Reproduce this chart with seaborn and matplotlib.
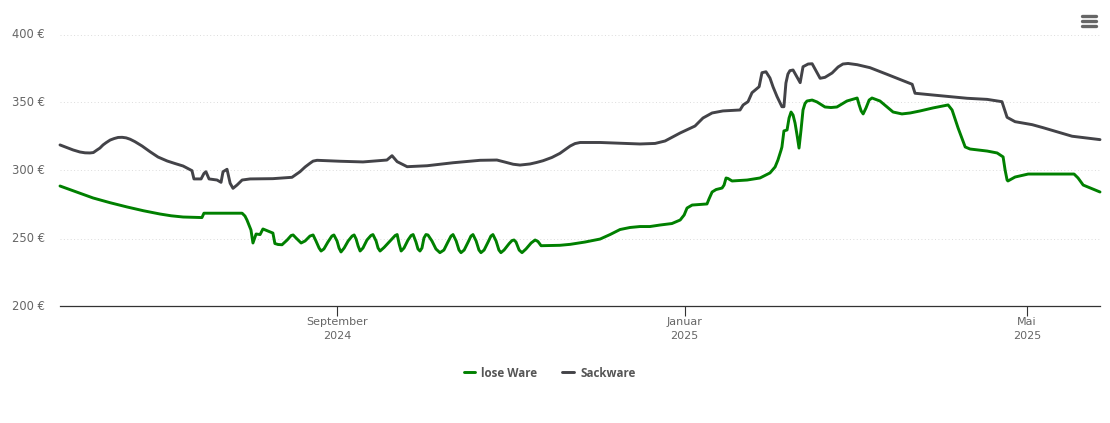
import pandas as pd
import matplotlib
matplotlib.use("Agg")
import matplotlib.pyplot as plt
from matplotlib.lines import Line2D
from matplotlib.transforms import ScaledTranslation
import seaborn as sns

ORIGIN = "2024-09-01"
# days since ORIGIN, price in euro
lose_days = [-97.2,-91.4,-85.6,-79.6,-73.7,-67.9,-62.1,-58.2,-54.0,-47.4,-46.7,-33.3,-32.3,-31.6,-30.2,-29.5,-28.4,-27.0,-26.0,-24.2,-22.5,-21.8,-20.7,-19.3,
    -17.5,-16.1,-15.4,-14.4,-12.6,-11.2,-9.5,-8.4,-7.4,-6.3,-5.6,-4.6,-3.2,-1.8,-1.1,0,0.7,1.4,2.5,3.9,5.3,6.0,6.7,7.4,8.1,9.1,10.5,11.9,12.6,
    13.7,14.4,15.1,16.5,18.6,20.4,21.1,21.8,22.5,23.5,24.9,26.0,26.7,27.7,28.4,29.1,29.8,30.5,31.2,31.9,33.3,34.7,36.1,37.5,38.9,40.0,40.7,
    41.8,42.8,43.5,44.6,46.0,47.0,47.7,48.8,49.8,50.5,51.6,53.0,54.0,54.7,55.8,56.8,57.5,58.6,60.4,61.4,62.1,62.8,63.9,64.9,66.3,68.1,69.5,
    70.5,71.6,78.2,81.8,87.0,92.3,95.8,99.3,102.8,106.3,109.8,113.3,117.5,120.4,121.8,122.8,124.6,127.4,129.8,130.5,131.6,133,135.1,135.8,
    136.5,137.2,138.6,143.9,148.4,151.9,153.7,154.7,155.8,156.1,156.8,157.9,158.6,159.3,160,160.7,161.4,162.1,162.8,163.5,164.2,164.9,166.7,
    168.4,171.2,173.3,175.4,178.9,182.5,183.2,183.9,184.6,185.6,186.7,187.7,190.5,193,195.1,198.2,201.1,204.6,209.1,214.4,215.8,217.9,220.4,
    222.1,228.1,231.6,233.7,234.4,235.1,235.4,237.9,242.5,258.6,260,261.8,267.7]
lose_ware = [288.6,284.2,279.8,276.3,273.2,270.4,268.0,266.7,265.8,265.4,268.6,268.6,266.5,263.6,256.3,246.7,253.3,252.9,257.0,255.5,254.0,246.3,245.6,245.4,
    248.9,252.2,252.6,250.4,246.7,248.2,251.8,252.6,248.2,243.0,240.8,242.3,247.4,251.8,252.6,248.2,243.0,240.1,243,248.2,251.8,252.6,249.6,244.5,240.8,243,248.9,252.2,252.9,
    248.2,243,240.8,243.4,248.2,252.2,252.9,246,240.8,243,248.9,252.2,252.9,247.4,242.3,240.8,243,250.4,252.9,252.6,248.2,242.3,239.6,241.5,247.4,251.8,252.9,
    248.2,241.5,239.6,241.5,247.4,251.8,252.9,248.2,241.5,239.6,241.5,247.4,251.8,252.9,248.2,241.5,239.6,241.5,246.3,248.5,248.9,247.4,241.5,239.6,242.3,246.7,248.9,
    247.8,244.7,245.0,245.7,247.4,249.6,252.9,256.6,258.1,258.8,258.8,259.9,261,263.6,267.3,272.4,274.6,275,275.4,279,284.2,286,287.1,289.3,
    294.5,294.1,292.3,293,294.5,298.2,302.6,307.7,315,317.3,329.1,329.8,338.6,343,340.8,334.9,326.1,316.5,329.8,344.5,349.3,351.1,351.8,
    350.4,346.7,346.3,346.7,351.1,353.3,348.2,343.8,341.6,346,351.8,353.3,351.1,346.7,343,341.6,342.3,343.8,346,348.2,344.5,331.3,317.3,
    315.8,314.3,312.9,310,300.4,293,292.3,295.2,297.4,297.4,294.5,289.3,284.2]

sack_days = [-97.2,-92.6,-90.2,-88.4,-86.7,-85.5,-84.2,-83.2,-82.1,-81,-79.6,-78.2,-76.8,-75.4,-74,-72.6,-70.9,-68.4,-65.6,-62.8,-59.6,-56.8,-54,-50.9,-50.2,-47.7,-46.7,-46,-44.9,-42.1,-40.7,-40,-38.6,
    -37.5,-36.5,-35.1,-33.3,-30.5,-22.5,-15.8,-13,-11.2,-9.5,-8.4,-7,1.1,9.1,17.5,19.3,21.1,24.6,31.6,40.7,50.2,56.1,58.9,61.8,64.2,67.7,70,72.3,75.4,78.2,81.8,83.5,85.3,92.3,
    106.3,111.6,115.1,120.4,125.6,128.4,131.6,135.4,141.4,142.5,144.2,145.6,148.1,149.1,150.5,151.9,153,154.4,156.1,156.8,157.5,158.2,158.9,160,162.5,
    163.5,165.3,166.7,169.5,171.2,173.7,175.8,177.5,179.3,182.5,187,193,201.8,202.8,209.1,221.1,228.1,233.3,235.1,237.9,243.9,247.7,257.9,267.7]
sackware = [318.8,315.1,313.6,313,312.9,313.2,315.1,316.5,318.8,320.5,322.4,323.5,324.3,324.4,324,323,321.2,318,313.8,309.9,307,305.1,303.3,299.9,293.8,293.8,297.8,299.1,293.8,293,291.3,299.1,300.9,
    290.6,286.9,289.3,293,293.8,294,295,299.1,302.6,305.3,306.9,307.5,306.8,306.3,307.7,310.9,306.5,302.8,303.5,305.7,307.5,307.7,306.2,304.6,304,304.8,305.9,307.2,309.6,312.6,318,319.8,320.6,320.6,
    319.5,319.9,321.7,327.6,332.7,338.6,342.3,343.8,344.5,348.2,350.6,357.2,361.6,371.9,372.6,368,361.4,354.3,346.9,346.9,364.3,370.9,373.4,373.9,364.6,
    376.3,378.3,378.5,367.8,368.5,371.7,376.1,378.3,378.7,377.8,375.6,370.7,363.4,356.8,355.5,353.1,352.3,350.6,339.1,335.9,333.7,331.5,325.2,322.7]

y_ticks = [200, 250, 300, 350, 400]
x_tick_dates = ["2024-09-01", "2025-01-01", "2025-05-01"]
x_tick_labels = ["September\n2024", "Januar\n2025", "Mai\n2025"]
series_names = ["lose Ware", "Sackware"]
series_colors = ["#008000", "#434348"]

def to_dates(days):
    return pd.Timestamp(ORIGIN) + pd.to_timedelta(days, unit="D")

df = pd.concat([
    pd.DataFrame({"date": to_dates(lose_days), "price": lose_ware, "series": series_names[0]}),
    pd.DataFrame({"date": to_dates(sack_days), "price": sackware, "series": series_names[1]}),
])

sns.set_theme(style="white")
plt.rcParams["font.family"] = ["DejaVu Sans"]
W, H = 1110, 423
fig = plt.figure(figsize=(W / 100, H / 100), dpi=100)
top_px, bottom_px = 14.1, 306.5
ax = fig.add_axes([60 / W, 1 - bottom_px / H, 1040 / W, (bottom_px - top_px) / H])

sns.lineplot(data=df, x="date", y="price", hue="series", palette=series_colors,
             estimator=None, sort=False, errorbar=None, linewidth=2.1, ax=ax, zorder=3,
             solid_joinstyle="round", solid_capstyle="round", clip_on=False)

ax.set_xlim(to_dates(-97.2), to_dates(267.7))
ax.set_ylim(200, 415)
ax.set_xlabel("")
ax.set_ylabel("")
for s in ["top", "left", "right"]:
    ax.spines[s].set_visible(False)
ax.spines["bottom"].set_color("#333333")
ax.spines["bottom"].set_linewidth(0.9)
ax.spines["bottom"].set_position(("outward", -0.4))

ax.set_yticks(y_ticks)
ax.set_yticklabels([f"{v} €" for v in y_ticks], color="#666666", fontsize=8.3)
ax.tick_params(axis="y", length=0, pad=11)
for label in ax.get_yticklabels():
    label.set_transform(label.get_transform() + ScaledTranslation(0, 1.5 / 100, fig.dpi_scale_trans))
ax.yaxis.grid(True, color="#dcdcdc", linestyle=(0, (1, 2.5)), linewidth=0.7)
ax.xaxis.grid(False)

ax.set_xticks(pd.to_datetime(x_tick_dates))
ax.set_xticklabels(x_tick_labels, color="#666666", fontsize=8, linespacing=1.5)
ax.tick_params(axis="x", bottom=True, length=7, width=0.8, color="#333333", pad=1)

handles = [Line2D([], [], color=c, linewidth=2.1, solid_capstyle="round") for c in series_colors]
ax.legend(handles, series_names, loc="center", bbox_to_anchor=(549.5 / W, 1 - 373 / H),
          bbox_transform=fig.transFigure, ncol=2, frameon=False, handlelength=0.98,
          handletextpad=0.56, columnspacing=2.1, borderpad=0,
          prop={"family": "Open Sans", "size": 8.4, "weight": "bold"}, labelcolor="#555555")

for y in [16.5, 21.5, 26.5]:
    fig.add_artist(Line2D([1082 / W, 1096 / W], [1 - y / H, 1 - y / H], color="#666666",
                          linewidth=2.4, solid_capstyle="round"))

fig.savefig("out.png", dpi=100, facecolor="white")
